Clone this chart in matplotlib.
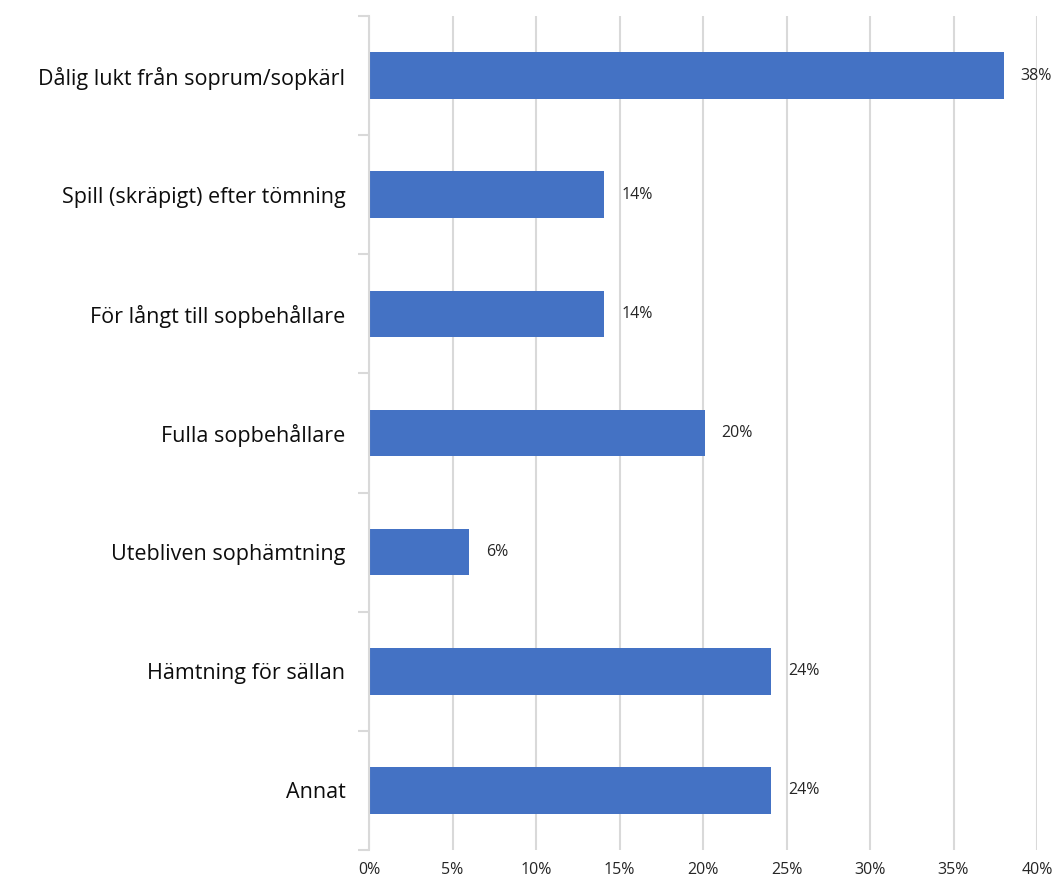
import matplotlib.pyplot as plt
from matplotlib.ticker import FixedLocator

# Data
categories = ['Dålig lukt från soprum/sopkärl', 'Spill (skräpigt) efter tömning',
              'För långt till sopbehållare', 'Fulla sopbehållare',
              'Utebliven sophämtning', 'Hämtning för sällan', 'Annat']
values = [38.0, 14.1, 14.1, 20.1, 6.0, 24.1, 24.1]
xticks = [0, 5, 10, 15, 20, 25, 30, 35, 40]
xtick_labels = ['0%', '5%', '10%', '15%', '20%', '25%', '30%', '35%', '40%']

plt.rcParams['font.family'] = ['Open Sans', 'DejaVu Sans']

fig = plt.figure(figsize=(10.57, 8.82), dpi=100)
ax = fig.add_axes([369 / 1057, 1 - 850 / 882, (1037 - 369) / 1057, (850 - 16) / 882])

pos = list(range(len(categories)))
ax.barh(pos, values, height=0.39, color='#4472C4', zorder=3)

# Dataetiketter
for p, v in zip(pos, values):
    ax.text(v + 1.0, p, f'{v:.0f}%', va='center', ha='left', fontsize=11.5, color='#262626')

ax.set_xlim(0, 40)
ax.set_ylim(len(categories) - 0.5, -0.5)
ax.set_xticks(xticks)
ax.set_xticklabels(xtick_labels, fontsize=11.5, color='#262626')
ax.set_yticks(pos)
ax.set_yticklabels(categories, fontsize=15.5, color='#0d0d0d')
ax.tick_params(axis='y', which='major', length=0, pad=17)
ax.yaxis.set_minor_locator(FixedLocator([i - 0.5 for i in range(len(categories) + 1)]))
ax.tick_params(axis='y', which='minor', length=8, width=1.5, color='#d9d9d9')
ax.tick_params(axis='x', length=0, pad=9)

ax.grid(axis='x', color='#d9d9d9', linewidth=1.5, zorder=0)
for s in ['top', 'right', 'bottom']:
    ax.spines[s].set_visible(False)
ax.spines['left'].set_color('#d9d9d9')
ax.spines['left'].set_linewidth(1.5)
ax.spines['left'].set_zorder(4)

fig.savefig('out.png', dpi=100)
